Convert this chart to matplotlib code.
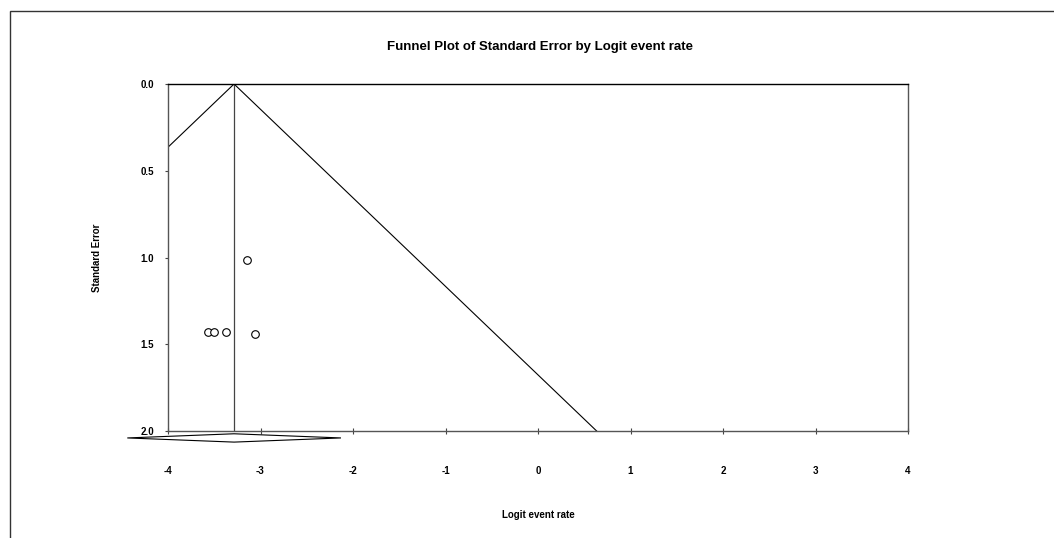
import matplotlib.pyplot as plt
from matplotlib.patches import Rectangle, Polygon

# datos del funnel plot
logit = [-3.147, -3.565, -3.503, -3.377, -3.057]
se = [1.014, 1.429, 1.429, 1.431, 1.441]
mean_effect = -3.286
ci_low, ci_high = -4.44, -2.13
se_max = 2.0
xticks = [-4, -3, -2, -1, 0, 1, 2, 3, 4]
yticks = [0.0, 0.5, 1.0, 1.5, 2.0]

plt.rcParams['font.family'] = ['Liberation Sans', 'DejaVu Sans']
fig = plt.figure(figsize=(10.54, 5.38), dpi=100)
ax = fig.add_axes([168/1054, 1-431/538, 740/1054, 347/538])

# funnel (limites del 95%)
ax.plot([mean_effect - 1.96*se_max, mean_effect, mean_effect + 1.96*se_max],
        [se_max, 0, se_max], color='black', lw=0.8)
ax.plot([mean_effect, mean_effect], [0, se_max], color='#444444', lw=0.9)
ax.scatter(logit, se, s=30, facecolors='white', edgecolors='black', linewidths=0.8, zorder=3)

# diamante del efecto combinado
yc = se_max + 0.04
h = 0.024
diamond = Polygon([[ci_low, yc], [mean_effect, yc - h],
                   [ci_high, yc], [mean_effect, yc + h]],
                  closed=True, facecolor='white', edgecolor='black', lw=0.8,
                  clip_on=False, zorder=4)
ax.add_patch(diamond)

ax.set_xlim(-4, 4)
ax.set_ylim(2.0, 0.0)
ax.set_xticks(xticks)
ax.set_yticks(yticks)
ax.set_xticklabels([str(t) for t in xticks], fontsize=7, fontweight='bold')
ax.set_yticklabels([f"{t:.1f}" for t in yticks], fontsize=7, fontweight='bold')
ax.tick_params(axis='x', direction='inout', length=5, width=0.8, pad=23, color='#444444')
ax.tick_params(axis='y', direction='out', length=2, width=0.8, pad=8, color='#444444')
for s in ['left', 'right', 'bottom']:
    ax.spines[s].set_color('#555555')
    ax.spines[s].set_linewidth(1.0)
ax.spines['top'].set_color('black')
ax.spines['top'].set_linewidth(1.0)

ax.set_xlabel('Logit event rate', fontsize=7, fontweight='bold', labelpad=24)
ax.set_ylabel('Standard Error', fontsize=7, fontweight='bold', labelpad=28)
fig.text(540/1054, 1-47/538, 'Funnel Plot of Standard Error by Logit event rate',
         ha='center', va='center', fontsize=9.5, fontweight='bold')

# marco exterior
fig.patches.append(Rectangle((10/1054, -0.1), 1.2, 1 - 11/538 + 0.1,
                             transform=fig.transFigure, fill=False,
                             edgecolor='#333333', lw=1.0))

plt.savefig('out.png', dpi=100)
